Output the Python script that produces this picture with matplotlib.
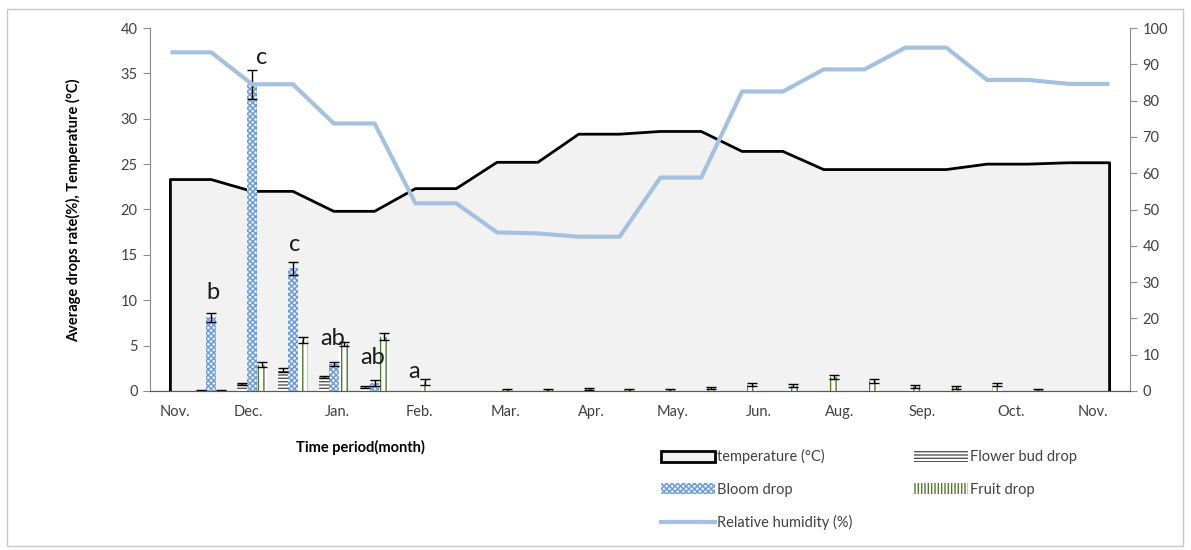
import numpy as np
import matplotlib
matplotlib.use("Agg")
import matplotlib.pyplot as plt
import matplotlib.patches as mpatches
from matplotlib.lines import Line2D

plt.rcParams["font.family"] = ["Lato", "DejaVu Sans"]
plt.rcParams["hatch.linewidth"] = 1.0

# half-month periods, Nov -> Nov (24 points)
temperature = [23.3, 23.3, 22.0, 22.0, 19.8, 19.8, 22.3, 22.3, 25.2, 25.2, 28.3, 28.3,
               28.6, 28.6, 26.4, 26.4, 24.4, 24.4, 24.4, 24.4, 25.0, 25.0, 25.15, 25.15]
humidity = [93.3, 93.3, 84.5, 84.5, 73.7, 73.7, 51.7, 51.7, 43.7, 43.4, 42.5, 42.5,
            58.8, 58.8, 82.5, 82.5, 88.6, 88.6, 94.6, 94.6, 85.7, 85.7, 84.6, 84.6]

flower_bud = [0, 0.1, 0.8, 2.3, 1.5, 0.4, 0, 0, 0, 0, 0, 0,
              0, 0, 0, 0, 0, 0, 0, 0, 0, 0, 0, 0]
flower_bud_err = [0, 0.05, 0.1, 0.2, 0.1, 0.1, 0, 0, 0, 0, 0, 0,
                  0, 0, 0, 0, 0, 0, 0, 0, 0, 0, 0, 0]
bloom = [0, 8.1, 33.8, 13.5, 3.0, 0.9, 0, 0, 0, 0, 0, 0,
         0, 0, 0, 0, 0, 0, 0, 0, 0, 0, 0, 0]
bloom_err = [0, 0.5, 1.6, 0.7, 0.2, 0.3, 0, 0, 0, 0, 0, 0,
             0, 0, 0, 0, 0, 0, 0, 0, 0, 0, 0, 0]
fruit = [0, 0.1, 2.9, 5.6, 5.2, 6.0, 1.0, 0, 0.1, 0.1, 0.25, 0.1,
         0.1, 0.3, 0.7, 0.6, 1.55, 1.1, 0.5, 0.4, 0.7, 0.1, 0, 0]
fruit_err = [0, 0.05, 0.3, 0.3, 0.2, 0.4, 0.3, 0, 0.1, 0.1, 0.1, 0.1,
             0.1, 0.1, 0.2, 0.15, 0.2, 0.2, 0.15, 0.15, 0.15, 0.1, 0, 0]

month_labels = ["Nov.", "Dec.", "Jan.", "Feb.", "Mar.", "Apr.", "May.", "Jun.",
                "Aug.", "Sep.", "Oct.", "Nov."]
month_pos = [0.1, 1.9, 4.1, 6.1, 8.2, 10.3, 12.3, 14.4, 16.4, 18.4, 20.6, 22.6]

# significance letters
letters_x = [1.04, 2.24, 3.05, 3.98, 4.94, 5.97]
letters_y = [10.9, 36.8, 16.1, 5.8, 3.7, 2.1]
letters = ["b", "c", "c", "ab", "ab", "a"]

TXT = "#404040"
GRID = "#8c8c8c"
RH_COLOR = "#a4c2e0"
BLOOM_FACE = "#e6eef8"
BLOOM_HATCH = "#6b9bd6"

fig = plt.figure(figsize=(11.91, 5.5), dpi=100)
fig.patches.append(mpatches.Rectangle((7 / 1191, 4 / 550), 1176 / 1191, 537 / 550,
                                      transform=fig.transFigure, fill=False,
                                      edgecolor="#c8c8c8", linewidth=1))
ax = fig.add_axes([150 / 1191, 1 - 391 / 550, 980 / 1191, 363 / 550])
ax2 = ax.twinx()

x = np.arange(len(temperature))
ax.fill_between(x, temperature, 0, color="#f2f2f2", zorder=1)
ax.plot(np.r_[x[0], x, x[-1]], np.r_[0, temperature, 0], color="black", lw=2, zorder=2)

w = 0.24
series = [
    (flower_bud, flower_bud_err, -w, "white", "#555555", "-----"),
    (bloom, bloom_err, 0, BLOOM_FACE, BLOOM_HATCH, "xxxxxx"),
    (fruit, fruit_err, w, "white", "#4e7a2a", "|||"),
]
for vals, errs, off, face, hcol, hatch in series:
    vals = np.array(vals)
    errs = np.array(errs)
    ax.bar(x + off, vals, w, color=face, edgecolor=hcol, hatch=hatch, linewidth=0, zorder=3)
    m = errs > 0
    ax.errorbar(x[m] + off, vals[m], yerr=errs[m], fmt="none", ecolor="black",
                elinewidth=1, capsize=3.5, capthick=1, zorder=4)

for lx, ly, t in zip(letters_x, letters_y, letters):
    ax.text(lx, ly, t, fontsize=17, color="#1a1a1a", ha="center", va="center", zorder=5)

ax2.plot(x, humidity, color=RH_COLOR, lw=3, solid_capstyle="butt")

ax.set_xlim(-0.5, 23.5)
ax.set_ylim(0, 40)
ax2.set_ylim(0, 100)
ax.set_yticks(np.arange(0, 41, 5))
ax2.set_yticks(np.arange(0, 101, 10))
ax.set_xticks(month_pos)
ax.set_xticklabels(month_labels)
ax.tick_params(axis="x", length=0, pad=10, labelsize=10.5, labelcolor=TXT)
ax.tick_params(axis="y", length=5, color=GRID, labelsize=10.5, labelcolor=TXT, pad=4)
ax2.tick_params(axis="y", length=5, color=GRID, labelsize=10.5, labelcolor=TXT, pad=4)

for a in (ax, ax2):
    a.spines["top"].set_visible(False)
    a.spines["left"].set_color(GRID)
    a.spines["right"].set_color(GRID)
    a.spines["bottom"].set_color("#595959")
ax.spines["right"].set_visible(False)
ax2.spines["left"].set_visible(False)

fig.text(74 / 1191, 1 - 210 / 550, "Average drops rate(%), Temperature (°C)",
         rotation=90, ha="center", va="center", fontsize=10.5, fontweight="bold")
fig.text(360 / 1191, 1 - 447 / 550, "Time period(month)", ha="center", va="center",
         fontsize=10.5, fontweight="bold")

handles = [
    mpatches.Patch(facecolor="#f2f2f2", edgecolor="black", linewidth=2),
    mpatches.Patch(facecolor=BLOOM_FACE, edgecolor=BLOOM_HATCH, hatch="xxxxxx", linewidth=0),
    Line2D([0], [0], color=RH_COLOR, lw=3),
    mpatches.Patch(facecolor="white", edgecolor="#555555", hatch="-----", linewidth=0),
    mpatches.Patch(facecolor="white", edgecolor="#4e7a2a", hatch="|||||", linewidth=0),
]
labels = ["temperature (°C)", "Bloom drop", "Relative humidity (%)",
          "Flower bud drop", "Fruit drop"]
fig.legend(handles, labels, loc="upper left", bbox_to_anchor=(654 / 1191, 1 - 442 / 550),
           ncol=2, frameon=False, fontsize=10.5, handlelength=3.7, handleheight=0.8,
           handletextpad=0.15, labelspacing=1.25, columnspacing=4.2, borderpad=0,
           labelcolor=TXT)

fig.savefig("out.png", dpi=100)
